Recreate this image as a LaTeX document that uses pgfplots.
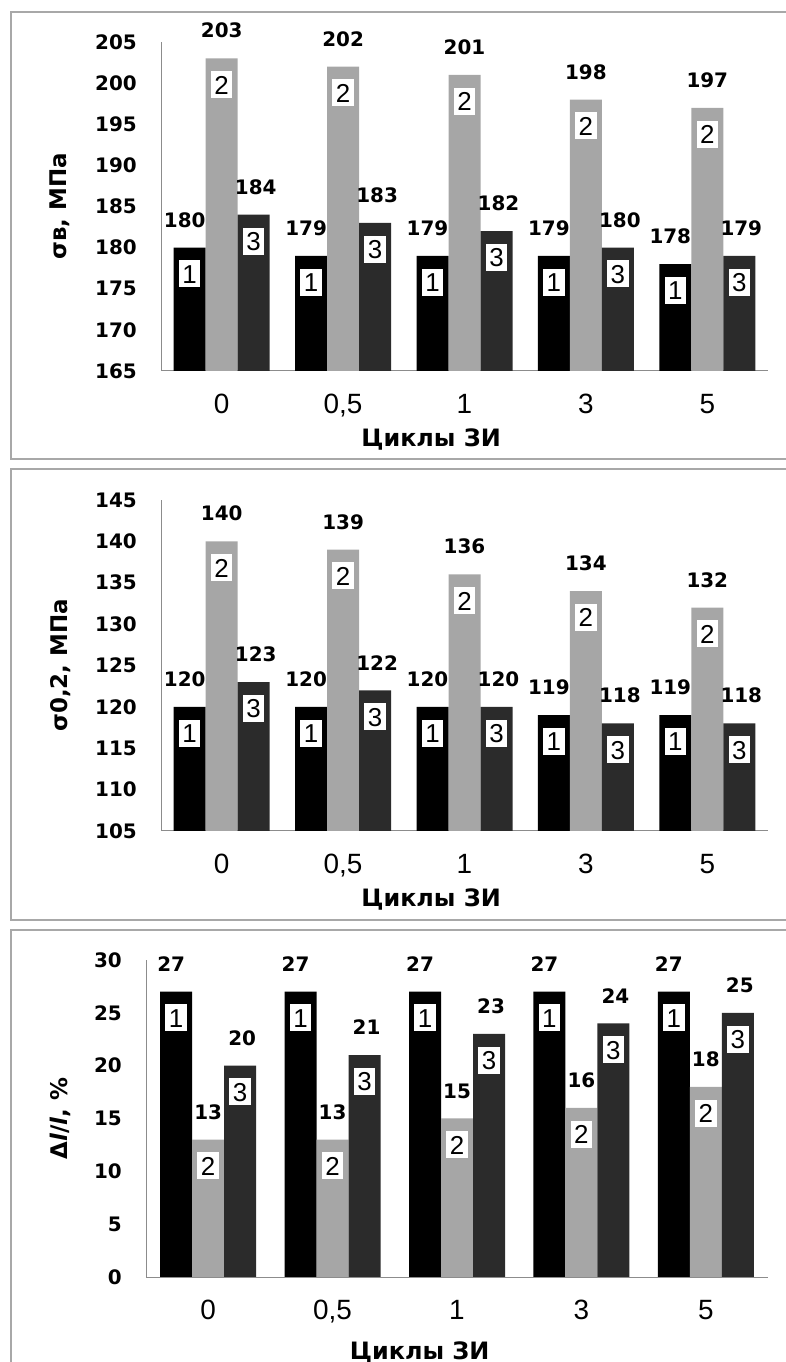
\documentclass[border=0pt]{standalone}
\usepackage{pgfplots}
\pgfplotsset{compat=1.18}
\usepackage{pgfplotstable}
\usepackage{fontspec}
\setmainfont{DejaVu Sans}
\newfontfamily\lib{Liberation Sans}
\definecolor{barA}{HTML}{000000}
\definecolor{barB}{HTML}{A6A6A6}
\definecolor{barC}{HTML}{2B2B2B}
\definecolor{framegray}{HTML}{A8A8A8}
\definecolor{axisgray}{HTML}{8C8C8C}

\pgfplotstableread{
x s1 s2 s3
0 180 203 184
1 179 202 183
2 179 201 182
3 179 198 180
4 178 197 179
}\tabA
\pgfplotstableread{
x s1 s2 s3
0 120 140 123
1 120 139 122
2 120 136 120
3 119 134 118
4 119 132 118
}\tabB
\pgfplotstableread{
x s1 s2 s3
0 27 13 20
1 27 13 21
2 27 15 23
3 27 16 24
4 27 18 25
}\tabC

\pgfplotsset{
  panel/.style={
    scale only axis, width=607bp, ybar=0pt, bar width=32bp,
    xmin=-0.5, xmax=4.5, xtick={0,...,4}, xticklabels={0,{0,5},1,3,5},
    axis x line*=bottom, axis y line*=left,
    axis line style={-, draw=axisgray, line width=1bp},
    major tick length=0pt,
    clip mode=individual,
    /pgf/number format/assume math mode=true,
    yticklabel style={font=\bfseries\fontsize{20}{20}\selectfont, anchor=east, inner sep=2bp, xshift=-22bp},
    xticklabel style={font=\lib\fontsize{28}{28}\selectfont, anchor=north, inner sep=2bp, yshift=-21bp},
    xlabel={Циклы ЗИ},
    xlabel style={font=\bfseries\fontsize{24}{24}\selectfont, at={(axis description cs:0.445,0)}, anchor=center, yshift=-69bp},
    ylabel style={font=\bfseries\fontsize{23}{23}\selectfont, at={(axis description cs:-0.166,0.5)}, anchor=center},
  },
  vals/.style={nodes near coords,
    every node near coord/.append style={font=\bfseries\fontsize{20}{20}\selectfont, inner sep=2bp, yshift=18bp}},
  valA/.style={fill=barA, draw=none, bar shift=-32bp, vals, every node near coord/.append style={xshift=-5bp}},
  valB/.style={fill=barB, draw=none, bar shift=0bp, vals},
  valC/.style={fill=barC, draw=none, bar shift=32bp, vals, every node near coord/.append style={xshift=2bp}},
  tag/.style={draw=none, fill=none, bar shift=#1, 
    every node near coord/.append style={font=\lib\fontsize{26}{26}\selectfont, fill=white, inner xsep=3.5bp, inner ysep=4bp, text height=19bp, text depth=0pt, yshift=-40bp}},
}

\begin{document}
\begin{tikzpicture}
\useasboundingbox (0bp,0bp) rectangle (786bp,1362bp);
\clip (0bp,0bp) rectangle (786bp,1362bp);
% panel frames
\draw[framegray, line width=1.5bp] (800bp,1350bp) -- (11bp,1350bp) -- (11bp,903bp) -- (800bp,903bp);
\draw[framegray, line width=1.5bp] (800bp,893bp) -- (11bp,893bp) -- (11bp,442bp) -- (800bp,442bp);
\draw[framegray, line width=1.5bp] (800bp,432bp) -- (11bp,432bp) -- (11bp,-10bp);

% panel 1
\begin{axis}[panel, at={(161bp,991bp)}, anchor=south west, height=329bp,
  ymin=165, ymax=205, ytick={165,170,...,205}, ylabel={σв, МПа}]
\addplot[valA] table[x=x,y=s1]{\tabA};
\addplot[valB] table[x=x,y=s2]{\tabA};
\addplot[valC] table[x=x,y=s3]{\tabA};
\addplot[tag=-32bp, nodes near coords={1}] table[x=x,y=s1]{\tabA};
\addplot[tag=0bp, nodes near coords={2}] table[x=x,y=s2]{\tabA};
\addplot[tag=32bp, nodes near coords={3}] table[x=x,y=s3]{\tabA};
\end{axis}

% panel 2
\begin{axis}[panel, at={(161bp,531bp)}, anchor=south west, height=331bp,
  ymin=105, ymax=145, ytick={105,110,...,145}, ylabel={σ0,2, МПа}]
\addplot[valA] table[x=x,y=s1]{\tabB};
\addplot[valB] table[x=x,y=s2]{\tabB};
\addplot[valC] table[x=x,y=s3]{\tabB};
\addplot[tag=-32bp, nodes near coords={1}] table[x=x,y=s1]{\tabB};
\addplot[tag=0bp, nodes near coords={2}] table[x=x,y=s2]{\tabB};
\addplot[tag=32bp, nodes near coords={3}] table[x=x,y=s3]{\tabB};
\end{axis}

% panel 3
\begin{axis}[panel, at={(146bp,85bp)}, anchor=south west, width=622bp, height=317bp,
  ymin=0, ymax=30, ytick={0,5,...,30}, ylabel={Δ\textit{l}/\textit{l}, \%},
  ylabel style={at={(axis description cs:-0.138,0.5)}, font=\bfseries\fontsize{23}{23}\selectfont},
  xlabel style={at={(axis description cs:0.44,0)}, yshift=-6bp}]
\addplot[valA] table[x=x,y=s1]{\tabC};
\addplot[valB] table[x=x,y=s2]{\tabC};
\addplot[valC] table[x=x,y=s3]{\tabC};
\addplot[tag=-32bp, nodes near coords={1}] table[x=x,y=s1]{\tabC};
\addplot[tag=0bp, nodes near coords={2}] table[x=x,y=s2]{\tabC};
\addplot[tag=32bp, nodes near coords={3}] table[x=x,y=s3]{\tabC};
\end{axis}
\end{tikzpicture}
\end{document}
